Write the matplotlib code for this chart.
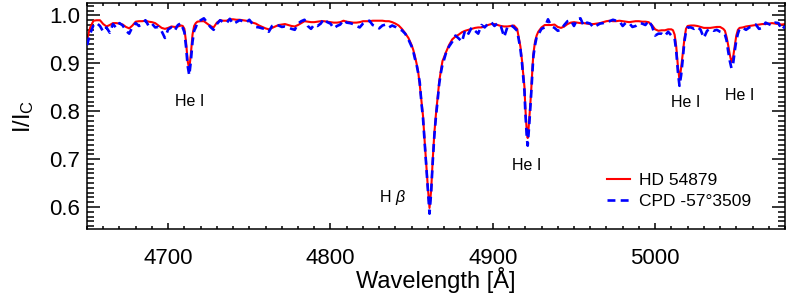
import matplotlib
matplotlib.use("Agg")
import matplotlib.pyplot as plt
from matplotlib.ticker import MultipleLocator

plt.rcParams['font.family'] = ['Liberation Sans', 'DejaVu Sans']
plt.rcParams['mathtext.fontset'] = 'custom'
plt.rcParams['mathtext.rm'] = 'Liberation Sans'
plt.rcParams['mathtext.it'] = 'Liberation Sans:italic'

# Wavelength grid [Angstrom]
wave = [
    4650, 4652, 4654, 4656, 4658, 4660, 4662, 4664, 4666, 4668,
    4670, 4672, 4674, 4676, 4678, 4680, 4682, 4684, 4686, 4688,
    4690, 4692, 4694, 4696, 4698, 4700, 4702, 4704, 4706, 4708,
    4709, 4710, 4711, 4712, 4713, 4714, 4715, 4716, 4717, 4718,
    4720, 4722, 4724, 4726, 4728, 4730, 4732, 4734, 4736, 4738,
    4740, 4742, 4744, 4746, 4748, 4750, 4752, 4754, 4756, 4758,
    4760, 4762, 4764, 4766, 4768, 4770, 4772, 4774, 4776, 4778,
    4780, 4782, 4784, 4786, 4788, 4790, 4792, 4794, 4796, 4798,
    4800, 4802, 4804, 4806, 4808, 4810, 4812, 4814, 4816, 4818,
    4820, 4822, 4824, 4826, 4828, 4830, 4832, 4834, 4836, 4838,
    4840, 4842, 4844, 4846, 4848, 4850,
    4851, 4852, 4853, 4854, 4855, 4856, 4857, 4858, 4859, 4860,
    4861, 4862, 4863, 4864, 4865, 4866, 4867, 4868, 4869, 4870, 4871,
    4873, 4875, 4877, 4879, 4881, 4883, 4885, 4887, 4889, 4891,
    4893, 4895, 4897, 4899, 4901, 4903, 4905, 4907, 4909, 4911,
    4913, 4915, 4917,
    4918, 4918.5, 4919, 4919.5, 4920, 4920.5, 4921, 4921.5, 4922, 4922.5,
    4923, 4923.5, 4924, 4924.5, 4925, 4926, 4927, 4928,
    4930, 4932, 4934, 4936, 4938, 4940, 4942, 4944, 4946, 4948,
    4950, 4952, 4954, 4956, 4958, 4960, 4962, 4964, 4966, 4968,
    4970, 4972, 4974, 4976, 4978, 4980, 4982, 4984, 4986, 4988,
    4990, 4992, 4994, 4996, 4998, 5000, 5002, 5004, 5006, 5008, 5010,
    5011, 5012, 5013, 5014, 5015, 5016, 5017, 5018, 5019, 5020,
    5022, 5024, 5026, 5028, 5030, 5032, 5034, 5036, 5038, 5040, 5042,
    5043, 5044, 5045, 5046, 5047, 5048, 5049, 5050, 5051, 5052,
    5054, 5056, 5058, 5060, 5062, 5064, 5066, 5068, 5070, 5072,
    5074, 5076, 5078, 5080,
]

# HD 54879 normalised flux (red, solid)
flux_hd = [
    0.950, 0.975, 0.989, 0.990, 0.990, 0.982, 0.977, 0.980, 0.984, 0.984,
    0.983, 0.981, 0.976, 0.973, 0.979, 0.987, 0.988, 0.988, 0.989, 0.987,
    0.986, 0.984, 0.979, 0.974, 0.972, 0.974, 0.977, 0.976, 0.977, 0.979,
    0.978, 0.972, 0.945, 0.905, 0.888, 0.920, 0.960, 0.978, 0.984, 0.987,
    0.988, 0.988, 0.983, 0.978, 0.975, 0.985, 0.990, 0.989, 0.989, 0.992,
    0.992, 0.991, 0.991, 0.990, 0.989, 0.988, 0.985, 0.983, 0.979, 0.976,
    0.973, 0.971, 0.974, 0.977, 0.980, 0.981, 0.982, 0.980, 0.978, 0.977,
    0.980, 0.984, 0.988, 0.987, 0.986, 0.986, 0.987, 0.988, 0.988, 0.987,
    0.986, 0.985, 0.985, 0.986, 0.989, 0.987, 0.986, 0.985, 0.985, 0.986,
    0.988, 0.988, 0.988, 0.989, 0.989, 0.989, 0.989, 0.988, 0.988, 0.986,
    0.983, 0.979, 0.972, 0.963, 0.953, 0.938,
    0.928, 0.915, 0.900, 0.883, 0.855, 0.822, 0.790, 0.738, 0.690, 0.640,
    0.598, 0.634, 0.700, 0.755, 0.795, 0.828, 0.862, 0.885, 0.905, 0.913, 0.922,
    0.938, 0.950, 0.956, 0.960, 0.965, 0.968, 0.970, 0.972, 0.974, 0.975,
    0.975, 0.977, 0.980, 0.982, 0.982, 0.980, 0.978, 0.977, 0.977, 0.978,
    0.979, 0.972, 0.935,
    0.905, 0.885, 0.870, 0.850, 0.810, 0.780, 0.755, 0.744, 0.762, 0.785,
    0.810, 0.835, 0.865, 0.895, 0.920, 0.945, 0.958, 0.966,
    0.975, 0.980, 0.980, 0.980, 0.981, 0.976, 0.974, 0.977, 0.982, 0.985,
    0.986, 0.985, 0.984, 0.984, 0.983, 0.982, 0.982, 0.983, 0.984, 0.986,
    0.988, 0.989, 0.988, 0.988, 0.989, 0.988, 0.987, 0.986, 0.987, 0.988,
    0.988, 0.987, 0.987, 0.986, 0.980, 0.971, 0.968, 0.969, 0.969, 0.971, 0.971,
    0.969, 0.960, 0.935, 0.895, 0.865, 0.890, 0.920, 0.950, 0.972, 0.978,
    0.979, 0.979, 0.978, 0.976, 0.974, 0.974, 0.974, 0.975, 0.976, 0.976, 0.972,
    0.968, 0.955, 0.938, 0.918, 0.903, 0.912, 0.935, 0.958, 0.970, 0.974,
    0.975, 0.977, 0.978, 0.979, 0.980, 0.981, 0.982, 0.982, 0.983, 0.984,
    0.983, 0.982, 0.981, 0.982,
]

# CPD -57 3509 normalised flux (blue, dashed)
flux_cpd = [
    0.938, 0.962, 0.980, 0.984, 0.978, 0.966, 0.975, 0.964, 0.982, 0.974,
    0.984, 0.979, 0.968, 0.962, 0.976, 0.984, 0.978, 0.982, 0.990, 0.978,
    0.983, 0.975, 0.976, 0.967, 0.953, 0.971, 0.975, 0.968, 0.980, 0.984,
    0.974, 0.965, 0.935, 0.895, 0.875, 0.905, 0.945, 0.968, 0.975, 0.985,
    0.990, 0.994, 0.985, 0.976, 0.970, 0.982, 0.990, 0.986, 0.984, 0.993,
    0.982, 0.986, 0.990, 0.988, 0.985, 0.991, 0.982, 0.976, 0.975, 0.973,
    0.972, 0.966, 0.978, 0.981, 0.979, 0.976, 0.977, 0.975, 0.972, 0.970,
    0.983, 0.988, 0.991, 0.978, 0.972, 0.981, 0.978, 0.983, 0.993, 0.986,
    0.983, 0.973, 0.978, 0.981, 0.990, 0.985, 0.984, 0.982, 0.978, 0.975,
    0.983, 0.987, 0.989, 0.980, 0.977, 0.973, 0.979, 0.981, 0.975, 0.979,
    0.976, 0.971, 0.969, 0.962, 0.950, 0.935,
    0.925, 0.910, 0.898, 0.880, 0.860, 0.818, 0.785, 0.735, 0.686, 0.636,
    0.586, 0.630, 0.695, 0.750, 0.790, 0.822, 0.858, 0.880, 0.898, 0.908, 0.920,
    0.935, 0.945, 0.958, 0.952, 0.945, 0.970, 0.962, 0.975, 0.968, 0.962,
    0.980, 0.975, 0.983, 0.986, 0.978, 0.984, 0.977, 0.955, 0.976, 0.980,
    0.975, 0.968, 0.930,
    0.900, 0.880, 0.862, 0.842, 0.800, 0.770, 0.742, 0.728, 0.750, 0.775,
    0.800, 0.828, 0.860, 0.888, 0.915, 0.938, 0.955, 0.960,
    0.972, 0.975, 0.992, 0.978, 0.974, 0.968, 0.970, 0.980, 0.988, 0.990,
    0.978, 0.992, 0.994, 0.978, 0.985, 0.983, 0.975, 0.979, 0.983, 0.984,
    0.987, 0.988, 0.991, 0.989, 0.988, 0.978, 0.985, 0.984, 0.976, 0.978,
    0.984, 0.983, 0.980, 0.989, 0.978, 0.958, 0.962, 0.962, 0.957, 0.966, 0.958,
    0.955, 0.952, 0.925, 0.883, 0.853, 0.875, 0.908, 0.945, 0.966, 0.975,
    0.975, 0.972, 0.976, 0.970, 0.953, 0.968, 0.972, 0.968, 0.970, 0.966, 0.964,
    0.960, 0.948, 0.925, 0.905, 0.890, 0.898, 0.925, 0.948, 0.962, 0.972,
    0.974, 0.970, 0.975, 0.978, 0.981, 0.972, 0.974, 0.985, 0.982, 0.979,
    0.985, 0.984, 0.970, 0.978,
]

labels = ["HD 54879", "CPD -57°3509"]
line_ids = ["He I", "H $\\beta$", "He I", "He I", "He I"]
line_x = [4713, 4838, 4921, 5019, 5052]
line_y = [0.820, 0.620, 0.686, 0.818, 0.832]

fig = plt.figure(figsize=(7.89, 2.96), dpi=100)
ax = fig.add_axes([87/789, 1 - 229/296, (785-87)/789, (229-3)/296])

ax.plot(wave, flux_hd, color='#ff0000', lw=1.5, label=labels[0], zorder=2)
ax.plot(wave, flux_cpd, color='#0000ff', lw=1.9, dashes=(3, 2), label=labels[1], zorder=3)

for t, x, y in zip(line_ids, line_x, line_y):
    ax.text(x, y, t, ha='center', va='center', fontsize=11.5)

ax.set_xlim(4650, 5080)
ax.set_ylim(0.554, 1.026)
ax.xaxis.set_major_locator(MultipleLocator(100))
ax.xaxis.set_minor_locator(MultipleLocator(10))
ax.yaxis.set_major_locator(MultipleLocator(0.1))
ax.yaxis.set_minor_locator(MultipleLocator(0.01))
ax.tick_params(axis='both', which='both', direction='in', top=True, right=True, width=1.1)
ax.tick_params(axis='x', which='major', length=4, labelsize=16, pad=13.5)
ax.tick_params(axis='x', which='minor', length=2)
ax.tick_params(axis='y', which='major', length=9.5, labelsize=16, pad=5)
ax.tick_params(axis='y', which='minor', length=4.8)
for s in ax.spines.values():
    s.set_linewidth(1.1)

ax.set_xlabel("Wavelength [Å]", fontsize=17, labelpad=-1)
ax.set_ylabel(r"$\mathregular{I/I_C}$", fontsize=17, labelpad=9.5)

ax.legend(loc='upper left', bbox_to_anchor=(0.745, 0.25), frameon=False,
          fontsize=12.5, handlelength=1.32, handletextpad=0.52, labelspacing=0.38,
          borderpad=0, borderaxespad=0)

fig.savefig("out.png", dpi=100)
